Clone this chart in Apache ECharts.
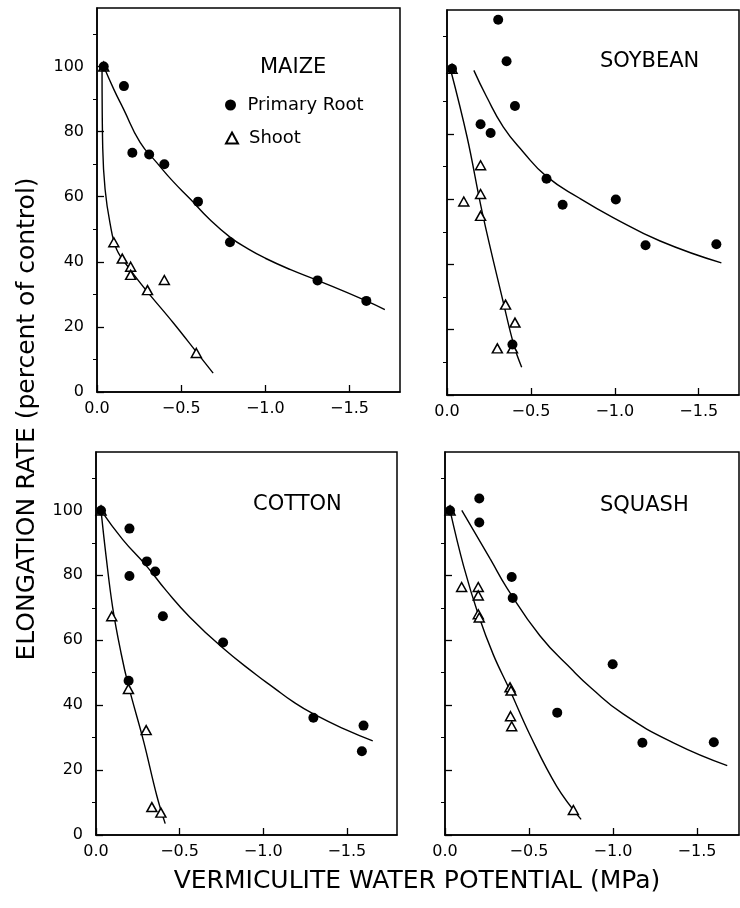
<!DOCTYPE html>
<html><head><meta charset="utf-8">
<script src="https://cdn.jsdelivr.net/npm/echarts@6/dist/echarts.min.js"></script>
<style>html,body{margin:0;padding:0;background:#fff}#c{width:740px;height:908px}</style>
</head><body><div id="c"></div>
<script>
// ---- labels / ticks ----
const panelNames = ['MAIZE', 'SOYBEAN', 'COTTON', 'SQUASH'];
const xTickValues = [0, -0.5, -1, -1.5];
const yTickValues = [0, 20, 40, 60, 80, 100];
const yMinorTickValues = [10, 30, 50, 70, 90, 110];
const xTitle = 'VERMICULITE WATER POTENTIAL (MPa)';
const yTitle = 'ELONGATION RATE (percent of control)';

// ---- MAIZE ----
const maizeRoot = [[-0.04,100],[-0.16,94],[-0.21,73.5],[-0.31,73],[-0.40,70],[-0.60,58.5],[-0.79,46],[-1.31,34.3],[-1.60,28]];
const maizeShoot = [[-0.04,100],[-0.10,46],[-0.15,41],[-0.20,38.5],[-0.20,36],[-0.30,31.3],[-0.40,34.4],[-0.59,12]];
const maizeRootFit = [[-0.04,100],[-0.10,93],[-0.157,87],[-0.256,76.7],[-0.355,70.5],[-0.45,64.8],[-0.554,59.3],[-0.67,53],[-0.79,47.6],[-0.9,43.9],[-1.0,41.1],[-1.15,37.6],[-1.31,34.3],[-1.6,28],[-1.71,25.3]];
const maizeShootFit = [[-0.03,100],[-0.034,75],[-0.048,62.3],[-0.077,52],[-0.117,43.8],[-0.196,37.7],[-0.296,31],[-0.454,21.2],[-0.589,12.4],[-0.69,5.8]];

// ---- SOYBEAN ----
const soyRoot = [[-0.03,100],[-0.305,115],[-0.355,102.3],[-0.405,88.6],[-0.20,83],[-0.26,80.3],[-0.593,66.3],[-0.689,58.3],[-1.006,59.9],[-1.183,45.9],[-1.605,46.2],[-0.39,15.5]];
const soyShoot = [[-0.03,100],[-0.20,70.4],[-0.20,61.6],[-0.10,59.3],[-0.20,54.9],[-0.349,27.7],[-0.405,22.2],[-0.30,14.3],[-0.39,14.3]];
const soyRootFit = [[-0.16,99.5],[-0.236,91.4],[-0.335,82.2],[-0.454,74.5],[-0.593,67],[-0.79,60.3],[-0.99,54.4],[-1.27,47.2],[-1.635,40.5]];
const soyShootFit = [[-0.02,100],[-0.12,79],[-0.21,56],[-0.335,28.5],[-0.40,15],[-0.445,8.5]];

// ---- COTTON ----
const cottonRoot = [[-0.03,100],[-0.20,94.4],[-0.20,79.8],[-0.304,84.3],[-0.354,81.2],[-0.40,67.4],[-0.76,59.3],[-1.30,36.1],[-1.60,33.7],[-1.59,25.8],[-0.195,47.5]];
const cottonShoot = [[-0.03,100],[-0.094,67.4],[-0.194,45],[-0.30,32.3],[-0.334,8.6],[-0.388,6.9]];
const cottonRootFit = [[-0.03,100],[-0.16,91],[-0.30,83],[-0.42,75.3],[-0.56,67.2],[-0.75,58],[-0.96,49.3],[-1.06,45.5],[-1.18,41],[-1.30,37.3],[-1.50,32.3],[-1.655,29]];
const cottonShootFit = [[-0.03,100],[-0.06,86],[-0.10,70],[-0.15,56],[-0.194,46],[-0.284,29],[-0.364,12],[-0.414,3.5]];

// ---- SQUASH ----
const squashRoot = [[-0.03,100],[-0.204,103.7],[-0.204,96.3],[-0.397,79.5],[-0.403,73],[-0.668,37.7],[-0.998,52.6],[-1.175,28.4],[-1.60,28.6]];
const squashShoot = [[-0.03,100],[-0.099,76.4],[-0.198,76.4],[-0.198,73.8],[-0.198,68],[-0.204,67],[-0.387,45.5],[-0.393,44.5],[-0.39,36.6],[-0.397,33.5],[-0.764,7.7]];
const squashRootFit = [[-0.1,100],[-0.27,85],[-0.37,76],[-0.565,61.4],[-0.764,50.5],[-0.87,45.3],[-1.06,37.3],[-1.36,28.4],[-1.68,21.4]];
const squashShootFit = [[-0.03,100],[-0.11,83],[-0.2,67.6],[-0.288,55.5],[-0.387,44.5],[-0.506,30.8],[-0.665,15],[-0.81,4.8]];

const roots = [maizeRoot, soyRoot, cottonRoot, squashRoot];
const shoots = [maizeShoot, soyShoot, cottonShoot, squashShoot];
const rootFits = [maizeRootFit, soyRootFit, cottonRootFit, squashRootFit];
const shootFits = [maizeShootFit, soyShootFit, cottonShootFit, squashShootFit];

// ---- layout ----
const FONT = '"DejaVu Sans", sans-serif';
const INK = '#000';
const grids = [
  {left: 97, top: 8, width: 303, height: 384},
  {left: 447, top: 10, width: 292, height: 385},
  {left: 96, top: 452, width: 301, height: 383},
  {left: 445, top: 452, width: 294, height: 383}
];
const xMax = [1.8, 1.74, 1.8, 1.75];
const yMax = 118;
const nameLabelPos = [[260, 68], [600, 62], [253, 505], [600, 506]];

const fmtX = v => (v === 0 ? '0.0' : '\u2212' + Math.abs(v).toFixed(1));

const xAxes = [], yAxes = [], series = [], graphics = [];
grids.forEach((g, i) => {
  g.show = true; g.borderColor = INK; g.borderWidth = 1.5; g.containLabel = false;
  xAxes.push({
    gridIndex: i, type: 'value', min: -xMax[i], max: 0, inverse: true, position: 'bottom',
    axisLine: {show: true, onZero: false, lineStyle: {color: INK, width: 1.5}},
    axisTick: {show: true, inside: true, length: 7, customValues: xTickValues, lineStyle: {color: INK, width: 1.3}},
    axisLabel: {show: true, customValues: xTickValues, formatter: fmtX, margin: 9, color: INK, fontSize: 16, fontFamily: FONT},
    splitLine: {show: false}
  });
  yAxes.push({
    gridIndex: i, type: 'value', min: 0, max: yMax,
    axisLine: {show: true, onZero: false, lineStyle: {color: INK, width: 1.5}},
    axisTick: {show: true, inside: true, length: 7, customValues: yTickValues, lineStyle: {color: INK, width: 1.3}},
    axisLabel: {show: i % 2 === 0, customValues: yTickValues, margin: 13, color: INK, fontSize: 16, fontFamily: FONT},
    splitLine: {show: false}
  });
});
grids.forEach((g, i) => {
  yAxes.push({
    gridIndex: i, type: 'value', min: 0, max: yMax,
    axisLine: {show: false},
    axisTick: {show: true, inside: true, length: 4, customValues: yMinorTickValues, lineStyle: {color: INK, width: 1}},
    axisLabel: {show: false},
    splitLine: {show: false}
  });
});

for (let i = 0; i < 4; i++) {
  series.push({
    type: 'line', name: 'root fit ' + i, xAxisIndex: i, yAxisIndex: i, data: rootFits[i],
    showSymbol: false, symbol: 'none', smooth: 0.5, silent: true, z: 2,
    lineStyle: {color: INK, width: 1.4}
  });
  series.push({
    type: 'line', name: 'shoot fit ' + i, xAxisIndex: i, yAxisIndex: i, data: shootFits[i],
    showSymbol: false, symbol: 'none', smooth: 0.4, silent: true, z: 2,
    lineStyle: {color: INK, width: 1.4}
  });
  series.push({
    type: 'scatter', name: 'Shoot', xAxisIndex: i, yAxisIndex: i, data: shoots[i],
    symbol: 'triangle', symbolSize: [10, 9], symbolKeepAspect: true, z: 3,
    itemStyle: {color: '#fff', borderColor: INK, borderWidth: 1.5, opacity: 1}
  });
  series.push({
    type: 'scatter', name: 'Primary Root', xAxisIndex: i, yAxisIndex: i, data: roots[i],
    symbol: 'circle', symbolSize: 10, z: 4,
    itemStyle: {color: INK, opacity: 1}
  });
  graphics.push({
    type: 'text', x: nameLabelPos[i][0], y: nameLabelPos[i][1],
    style: {text: panelNames[i], fill: INK, fontSize: 21, fontFamily: FONT, align: 'left', verticalAlign: 'middle'}
  });
}
graphics.push({
  type: 'text', x: 417, y: 881,
  style: {text: xTitle, fill: INK, fontSize: 25, fontFamily: FONT, align: 'center', verticalAlign: 'middle'}
});
graphics.push({
  type: 'text', x: 27, y: 419, rotation: Math.PI / 2,
  style: {text: yTitle, fill: INK, fontSize: 25, fontFamily: FONT, align: 'center', verticalAlign: 'middle'}
});

const legendBase = {
  orient: 'vertical', left: 220, itemWidth: 12, itemHeight: 11, selectedMode: false, symbolKeepAspect: true,
  textStyle: {color: INK, fontSize: 18, fontFamily: FONT, padding: [0, 0, 0, 6]}
};
const option = {
  backgroundColor: '#fff',
  animation: false,
  grid: grids,
  xAxis: xAxes,
  yAxis: yAxes,
  legend: [
    Object.assign({}, legendBase, {top: 91, data: [{name: 'Primary Root', icon: 'circle'}]}),
    Object.assign({}, legendBase, {top: 124, data: [{name: 'Shoot', icon: 'triangle'}]})
  ],
  series: series,
  graphic: graphics
};
const chart = echarts.init(document.getElementById('c'));
chart.setOption(option);
</script></body></html>
